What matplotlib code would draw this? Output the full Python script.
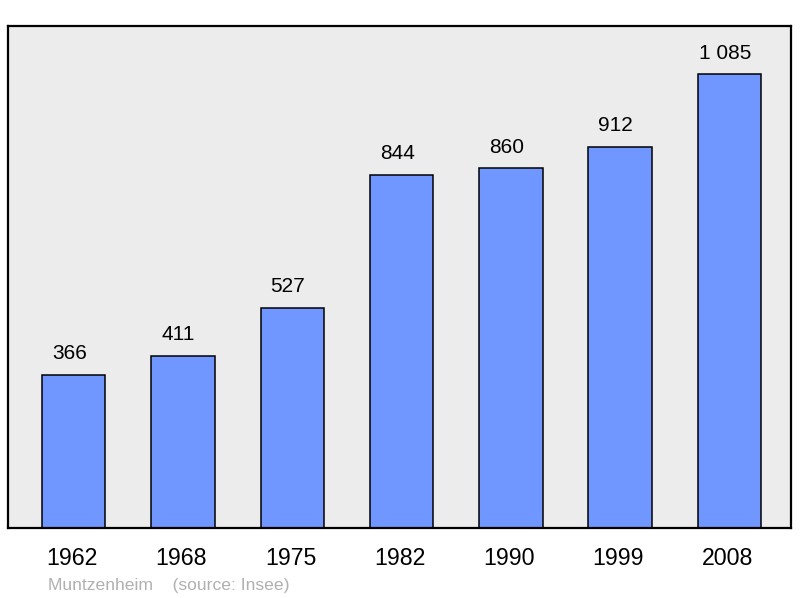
import matplotlib
matplotlib.use("Agg")
import matplotlib.pyplot as plt

years = ["1962", "1968", "1975", "1982", "1990", "1999", "2008"]
population = [366, 411, 527, 844, 860, 912, 1085]
value_labels = ["366", "411", "527", "844", "860", "912", "1 085"]

plt.rcParams['font.family'] = ['Liberation Sans', 'DejaVu Sans']

fig = plt.figure(figsize=(8, 5.98), dpi=100)
ax = fig.add_axes([0.01, 0.117, 0.979, 0.839])
ax.set_facecolor("#ececec")

x = range(len(years))
ax.bar(x, population, width=0.58, color="#7096ff", edgecolor="black", linewidth=1.1, zorder=2)

for xi, v, lab in zip(x, population, value_labels):
    ax.text(xi - 0.04, v + 28, lab, ha="center", va="bottom", fontsize=15)

ax.set_xlim(-0.6, 6.565)
ax.set_ylim(0, 1200)
ax.set_yticks([])
ax.set_xticks([xi - 0.015 for xi in x])
ax.set_xticklabels(years, fontsize=16.7)
ax.tick_params(axis="x", length=0, pad=14)
for s in ax.spines.values():
    s.set_linewidth(1.6)

fig.text(0.06, 0.014, "Muntzenheim    (source: Insee)", color="#b0b0b0", fontsize=12.6)

fig.savefig("out.png", dpi=100)
